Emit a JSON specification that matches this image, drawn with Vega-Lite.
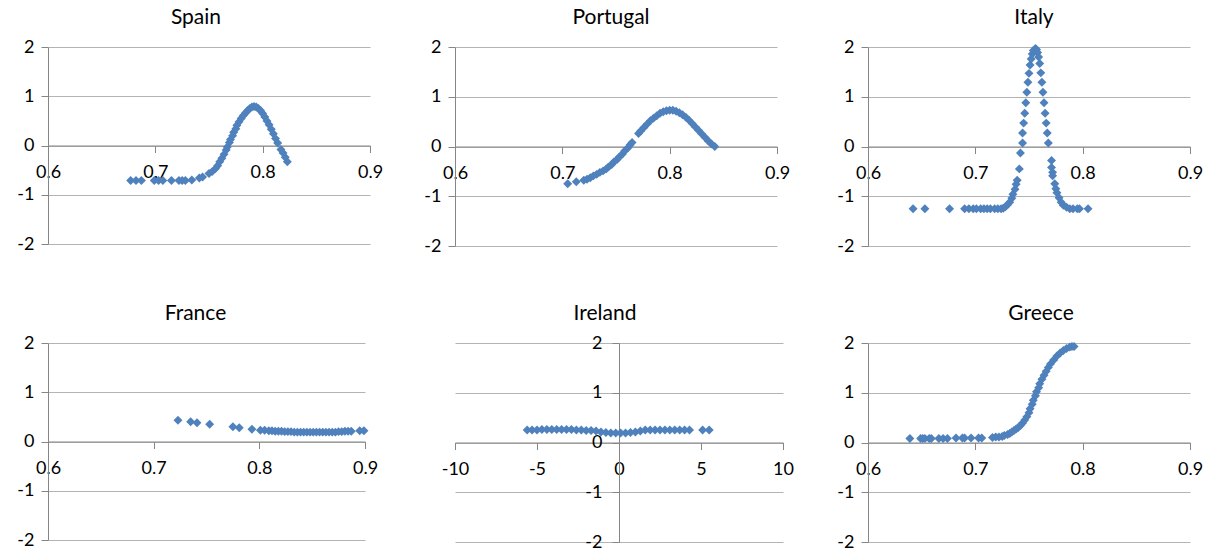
{
  "$schema": "https://vega.github.io/schema/vega-lite/v6.json",
  "background": "white",
  "padding": {"left": 16, "top": 7, "right": 3, "bottom": 3},
  "datasets": {
    "spain": [
      {"x":0.677,"y":-0.71},{"x":0.682,"y":-0.71},{"x":0.687,"y":-0.71},{"x":0.699,"y":-0.71},{"x":0.703,"y":-0.71},{"x":0.707,"y":-0.71},{"x":0.715,"y":-0.71},{"x":0.722,"y":-0.71},{"x":0.725,"y":-0.71},{"x":0.728,"y":-0.71},{"x":0.734,"y":-0.70},
      {"x":0.741,"y":-0.66},{"x":0.744,"y":-0.64},{"x":0.750,"y":-0.57},{"x":0.753,"y":-0.53},{"x":0.756,"y":-0.47},{"x":0.758,"y":-0.41},{"x":0.760,"y":-0.33},{"x":0.762,"y":-0.26},{"x":0.764,"y":-0.18},{"x":0.766,"y":-0.09},{"x":0.767,"y":-0.03},{"x":0.769,"y":0.06},{"x":0.770,"y":0.12},{"x":0.772,"y":0.20},{"x":0.773,"y":0.27},{"x":0.775,"y":0.34},{"x":0.776,"y":0.41},{"x":0.778,"y":0.48},{"x":0.780,"y":0.55},{"x":0.782,"y":0.61},{"x":0.784,"y":0.66},{"x":0.786,"y":0.71},{"x":0.788,"y":0.75},{"x":0.790,"y":0.78},{"x":0.792,"y":0.79},{"x":0.794,"y":0.78},{"x":0.796,"y":0.75},{"x":0.798,"y":0.71},{"x":0.800,"y":0.65},{"x":0.802,"y":0.58},{"x":0.804,"y":0.50},{"x":0.806,"y":0.42},{"x":0.808,"y":0.33},{"x":0.810,"y":0.24},{"x":0.812,"y":0.14},{"x":0.814,"y":0.05},{"x":0.817,"y":-0.08},{"x":0.819,"y":-0.15},{"x":0.821,"y":-0.24},{"x":0.823,"y":-0.33}
    ],
    "portugal": [
      {"x":0.705,"y":-0.75},{"x":0.713,"y":-0.71},{"x":0.720,"y":-0.68},{"x":0.723,"y":-0.66},{"x":0.726,"y":-0.63},{"x":0.729,"y":-0.59},{"x":0.732,"y":-0.56},{"x":0.735,"y":-0.52},{"x":0.738,"y":-0.49},{"x":0.741,"y":-0.45},{"x":0.743,"y":-0.41},{"x":0.746,"y":-0.36},{"x":0.748,"y":-0.31},{"x":0.751,"y":-0.26},{"x":0.753,"y":-0.21},{"x":0.756,"y":-0.15},{"x":0.758,"y":-0.09},{"x":0.761,"y":-0.03},{"x":0.763,"y":0.03},{"x":0.765,"y":0.08},{"x":0.771,"y":0.26},{"x":0.773,"y":0.31},{"x":0.776,"y":0.38},{"x":0.779,"y":0.45},{"x":0.782,"y":0.52},{"x":0.785,"y":0.57},{"x":0.788,"y":0.62},{"x":0.791,"y":0.67},{"x":0.794,"y":0.70},{"x":0.797,"y":0.72},{"x":0.800,"y":0.73},{"x":0.803,"y":0.73},{"x":0.806,"y":0.71},{"x":0.809,"y":0.68},{"x":0.812,"y":0.64},{"x":0.815,"y":0.59},{"x":0.818,"y":0.53},{"x":0.821,"y":0.46},{"x":0.824,"y":0.39},{"x":0.827,"y":0.32},{"x":0.830,"y":0.25},{"x":0.833,"y":0.18},{"x":0.836,"y":0.11},{"x":0.839,"y":0.05},{"x":0.842,"y":0.00}
    ],
    "italy": [
      {"x":0.642,"y":-1.25},{"x":0.653,"y":-1.25},{"x":0.676,"y":-1.25},{"x":0.690,"y":-1.25},{"x":0.694,"y":-1.25},{"x":0.698,"y":-1.25},{"x":0.701,"y":-1.25},{"x":0.705,"y":-1.25},{"x":0.708,"y":-1.25},{"x":0.711,"y":-1.25},{"x":0.714,"y":-1.25},{"x":0.718,"y":-1.25},{"x":0.721,"y":-1.25},{"x":0.724,"y":-1.25},{"x":0.726,"y":-1.24},{"x":0.728,"y":-1.21},{"x":0.730,"y":-1.17},{"x":0.732,"y":-1.12},{"x":0.734,"y":-1.04},{"x":0.735,"y":-0.96},{"x":0.737,"y":-0.86},{"x":0.738,"y":-0.76},{"x":0.739,"y":-0.68},{"x":0.741,"y":-0.45},{"x":0.742,"y":-0.13},{"x":0.744,"y":0.07},{"x":0.744,"y":0.27},{"x":0.745,"y":0.47},{"x":0.746,"y":0.67},{"x":0.747,"y":0.88},{"x":0.748,"y":1.09},{"x":0.749,"y":1.29},{"x":0.750,"y":1.47},{"x":0.751,"y":1.64},{"x":0.752,"y":1.76},{"x":0.753,"y":1.86},{"x":0.754,"y":1.93},{"x":0.756,"y":1.97},{"x":0.757,"y":1.95},{"x":0.758,"y":1.89},{"x":0.759,"y":1.80},{"x":0.760,"y":1.67},{"x":0.761,"y":1.48},{"x":0.762,"y":1.29},{"x":0.763,"y":1.09},{"x":0.764,"y":0.88},{"x":0.765,"y":0.67},{"x":0.766,"y":0.47},{"x":0.767,"y":0.27},{"x":0.768,"y":0.07},{"x":0.771,"y":-0.28},{"x":0.771,"y":-0.42},{"x":0.772,"y":-0.52},{"x":0.772,"y":-0.59},{"x":0.774,"y":-0.75},{"x":0.775,"y":-0.85},{"x":0.776,"y":-0.93},{"x":0.778,"y":-1.03},{"x":0.780,"y":-1.12},{"x":0.782,"y":-1.18},{"x":0.785,"y":-1.22},{"x":0.788,"y":-1.25},{"x":0.791,"y":-1.25},{"x":0.795,"y":-1.25},{"x":0.797,"y":-1.25},{"x":0.805,"y":-1.25}
    ],
    "france": [
      {"x":0.723,"y":0.43},{"x":0.735,"y":0.40},{"x":0.741,"y":0.38},{"x":0.753,"y":0.35},{"x":0.775,"y":0.30},{"x":0.781,"y":0.28},{"x":0.793,"y":0.25},{"x":0.801,"y":0.23},{"x":0.805,"y":0.23},{"x":0.809,"y":0.22},{"x":0.812,"y":0.22},{"x":0.815,"y":0.21},{"x":0.818,"y":0.21},{"x":0.821,"y":0.21},{"x":0.824,"y":0.20},{"x":0.827,"y":0.20},{"x":0.830,"y":0.20},{"x":0.833,"y":0.19},{"x":0.836,"y":0.19},{"x":0.839,"y":0.19},{"x":0.842,"y":0.19},{"x":0.845,"y":0.19},{"x":0.848,"y":0.19},{"x":0.851,"y":0.19},{"x":0.854,"y":0.19},{"x":0.857,"y":0.19},{"x":0.860,"y":0.19},{"x":0.863,"y":0.19},{"x":0.866,"y":0.19},{"x":0.869,"y":0.19},{"x":0.872,"y":0.19},{"x":0.875,"y":0.20},{"x":0.878,"y":0.20},{"x":0.881,"y":0.21},{"x":0.884,"y":0.21},{"x":0.887,"y":0.21},{"x":0.895,"y":0.22},{"x":0.899,"y":0.22}
    ],
    "ireland": [
      {"x":-5.6,"y":0.25},{"x":-5.3,"y":0.25},{"x":-5.0,"y":0.25},{"x":-4.7,"y":0.26},{"x":-4.4,"y":0.26},{"x":-4.1,"y":0.26},{"x":-3.8,"y":0.26},{"x":-3.5,"y":0.26},{"x":-3.2,"y":0.26},{"x":-2.9,"y":0.26},{"x":-2.6,"y":0.25},{"x":-2.3,"y":0.25},{"x":-2.0,"y":0.24},{"x":-1.7,"y":0.24},{"x":-1.4,"y":0.23},{"x":-1.1,"y":0.21},{"x":-0.8,"y":0.20},{"x":-0.5,"y":0.19},{"x":-0.2,"y":0.19},{"x":0.1,"y":0.19},{"x":0.4,"y":0.19},{"x":0.7,"y":0.20},{"x":1.0,"y":0.21},{"x":1.3,"y":0.23},{"x":1.6,"y":0.25},{"x":1.9,"y":0.25},{"x":2.2,"y":0.25},{"x":2.5,"y":0.25},{"x":2.8,"y":0.25},{"x":3.1,"y":0.25},{"x":3.4,"y":0.25},{"x":3.7,"y":0.25},{"x":4.0,"y":0.25},{"x":4.3,"y":0.25},{"x":5.1,"y":0.25},{"x":5.5,"y":0.25}
    ],
    "greece": [
      {"x":0.639,"y":0.08},{"x":0.649,"y":0.08},{"x":0.651,"y":0.08},{"x":0.653,"y":0.08},{"x":0.657,"y":0.08},{"x":0.659,"y":0.08},{"x":0.666,"y":0.08},{"x":0.670,"y":0.08},{"x":0.674,"y":0.08},{"x":0.682,"y":0.09},{"x":0.688,"y":0.09},{"x":0.690,"y":0.09},{"x":0.696,"y":0.09},{"x":0.703,"y":0.09},{"x":0.706,"y":0.09},{"x":0.716,"y":0.10},{"x":0.719,"y":0.11},{"x":0.722,"y":0.11},{"x":0.725,"y":0.12},{"x":0.727,"y":0.14},{"x":0.730,"y":0.16},{"x":0.732,"y":0.18},{"x":0.734,"y":0.21},{"x":0.736,"y":0.24},{"x":0.738,"y":0.27},{"x":0.740,"y":0.30},{"x":0.742,"y":0.34},{"x":0.744,"y":0.39},{"x":0.746,"y":0.45},{"x":0.748,"y":0.52},{"x":0.750,"y":0.60},{"x":0.751,"y":0.68},{"x":0.753,"y":0.77},{"x":0.754,"y":0.85},{"x":0.756,"y":0.94},{"x":0.757,"y":1.02},{"x":0.759,"y":1.10},{"x":0.760,"y":1.18},{"x":0.762,"y":1.27},{"x":0.764,"y":1.35},{"x":0.766,"y":1.43},{"x":0.768,"y":1.51},{"x":0.770,"y":1.58},{"x":0.773,"y":1.66},{"x":0.776,"y":1.74},{"x":0.779,"y":1.80},{"x":0.782,"y":1.85},{"x":0.785,"y":1.89},{"x":0.788,"y":1.92},{"x":0.790,"y":1.93},{"x":0.792,"y":1.93}
    ]
  },
  "columns": 3,
  "align": "none",
  "bounds": "flush",
  "spacing": {"row": 97, "column": 85},
  "concat": [
    {
      "width": 322, "height": 197,
      "data": {"name": "spain"},
      "title": {"text": "Spain", "dx": -13},
      "mark": {"type": "point", "shape": "diamond", "filled": true, "size": 80, "color": "#4f81bd", "opacity": 1},
      "encoding": {
        "x": {"field": "x", "type": "quantitative", "scale": {"domain": [0.6, 0.9], "nice": false, "zero": false}, "axis": {"values": [0.6, 0.7, 0.8, 0.9], "offset": -98.5}},
        "y": {"field": "y", "type": "quantitative", "scale": {"domain": [-2, 2], "nice": false}, "axis": {"values": [-2, -1, 0, 1, 2]}}
      }
    },
    {
      "width": 322, "height": 199,
      "data": {"name": "portugal"},
      "title": {"text": "Portugal", "dx": -5},
      "mark": {"type": "point", "shape": "diamond", "filled": true, "size": 80, "color": "#4f81bd", "opacity": 1},
      "encoding": {
        "x": {"field": "x", "type": "quantitative", "scale": {"domain": [0.6, 0.9], "nice": false, "zero": false}, "axis": {"values": [0.6, 0.7, 0.8, 0.9], "offset": -99.5}},
        "y": {"field": "y", "type": "quantitative", "scale": {"domain": [-2, 2], "nice": false}, "axis": {"values": [-2, -1, 0, 1, 2]}}
      }
    },
    {
      "width": 322, "height": 199,
      "data": {"name": "italy"},
      "title": {"text": "Italy", "dx": 5},
      "mark": {"type": "point", "shape": "diamond", "filled": true, "size": 80, "color": "#4f81bd", "opacity": 1},
      "encoding": {
        "x": {"field": "x", "type": "quantitative", "scale": {"domain": [0.6, 0.9], "nice": false, "zero": false}, "axis": {"values": [0.6, 0.7, 0.8, 0.9], "offset": -99.5}},
        "y": {"field": "y", "type": "quantitative", "scale": {"domain": [-2, 2], "nice": false}, "axis": {"values": [-2, -1, 0, 1, 2]}}
      }
    },
    {
      "width": 317, "height": 197,
      "data": {"name": "france"},
      "title": {"text": "France", "dx": -11},
      "mark": {"type": "point", "shape": "diamond", "filled": true, "size": 80, "color": "#4f81bd", "opacity": 1},
      "encoding": {
        "x": {"field": "x", "type": "quantitative", "scale": {"domain": [0.6, 0.9], "nice": false, "zero": false}, "axis": {"values": [0.6, 0.7, 0.8, 0.9], "offset": -98.5}},
        "y": {"field": "y", "type": "quantitative", "scale": {"domain": [-2, 2], "nice": false}, "axis": {"values": [-2, -1, 0, 1, 2]}}
      }
    },
    {
      "width": 328, "height": 199,
      "data": {"name": "ireland"},
      "title": {"text": "Ireland", "dx": -14},
      "mark": {"type": "point", "shape": "diamond", "filled": true, "size": 80, "color": "#4f81bd", "opacity": 1},
      "encoding": {
        "x": {"field": "x", "type": "quantitative", "scale": {"domain": [-10, 10], "nice": false, "zero": false}, "axis": {"values": [-10, -5, 0, 5, 10], "offset": -99.5}},
        "y": {"field": "y", "type": "quantitative", "scale": {"domain": [-2, 2], "nice": false}, "axis": {"values": [-2, -1, 0, 1, 2], "offset": -164, "labelPadding": 10}}
      }
    },
    {
      "width": 322, "height": 199,
      "data": {"name": "greece"},
      "title": {"text": "Greece", "dx": 12},
      "mark": {"type": "point", "shape": "diamond", "filled": true, "size": 80, "color": "#4f81bd", "opacity": 1},
      "encoding": {
        "x": {"field": "x", "type": "quantitative", "scale": {"domain": [0.6, 0.9], "nice": false, "zero": false}, "axis": {"values": [0.6, 0.7, 0.8, 0.9], "offset": -99.5}},
        "y": {"field": "y", "type": "quantitative", "scale": {"domain": [-2, 2], "nice": false}, "axis": {"values": [-2, -1, 0, 1, 2]}}
      }
    }
  ],
  "config": {
    "view": {"stroke": null},
    "axis": {
      "title": null,
      "labelFont": "Lato",
      "labelFontSize": 18,
      "labelColor": "#000000",
      "labelExpr": "'' + datum.value",
      "labelFlush": false,
      "labelOverlap": false,
      "labelBound": false,
      "domainColor": "#868686",
      "tickColor": "#868686",
      "gridColor": "#b4b4b4",
      "tickSize": 7,
      "domainWidth": 1,
      "tickWidth": 1,
      "gridWidth": 1
    },
    "axisX": {"grid": false, "labelPadding": 11},
    "axisY": {"grid": true, "labelPadding": 7},
    "title": {"font": "Lato", "fontSize": 21, "fontWeight": "normal", "color": "#000000", "frame": "group", "anchor": "middle", "offset": 10}
  }
}
